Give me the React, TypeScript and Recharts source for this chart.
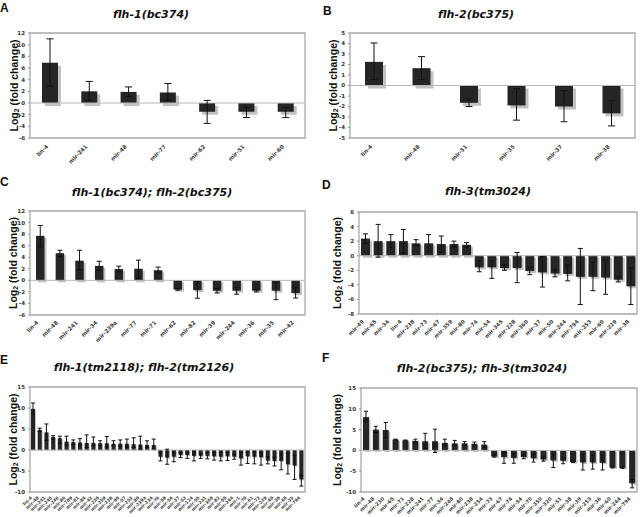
import React from 'react';
import { BarChart, Bar, XAxis, YAxis, ErrorBar, ReferenceLine, ReferenceArea } from 'recharts';

// ---------- Panel A: flh-1(bc374) ----------
const aNames = ['lin-4', 'mir-241', 'mir-48', 'mir-77', 'mir-62', 'mir-51', 'mir-60'];
const aValues = [6.9, 2.0, 1.9, 1.8, -1.5, -1.5, -1.5];
const aLow = [2.9, 0.4, 1.1, 0.5, -3.5, -2.5, -2.5];
const aHigh = [11.0, 3.7, 2.75, 3.35, 0.45, -0.75, -0.75];
const aTicks = [-6, -4, -2, 0, 2, 4, 6, 8, 10, 12];

// ---------- Panel B: flh-2(bc375) ----------
const bNames = ['lin-4', 'mir-48', 'mir-51', 'mir-35', 'mir-37', 'mir-38'];
const bValues = [2.25, 1.65, -1.65, -1.9, -2.0, -2.65];
const bLow = [0.55, 0.55, -2.0, -3.3, -3.45, -3.85];
const bHigh = [4.05, 2.75, -1.25, -0.3, -0.5, -1.45];
const bTicks = [-5, -4, -3, -2, -1, 0, 1, 2, 3, 4, 5];

// ---------- Panel C: flh-1(bc374); flh-2(bc375) ----------
const cNames = ['lin-4', 'mir-48', 'mir-241', 'mir-34', 'mir-239a', 'mir-77', 'mir-71', 'mir-62', 'mir-82', 'mir-39', 'mir-244', 'mir-36', 'mir-35', 'mir-42'];
const cValues = [7.7, 4.7, 3.4, 2.5, 1.95, 2.0, 1.75, -1.6, -1.7, -1.8, -1.8, -1.8, -1.8, -2.2];
const cLow = [5.8, 4.1, 1.8, 1.7, 1.45, 0.3, 1.3, -1.7, -3.1, -2.2, -2.4, -2.0, -3.35, -3.05];
const cHigh = [9.5, 5.2, 5.2, 3.3, 2.45, 3.5, 2.3, -1.45, -0.2, -1.4, -1.2, -1.6, -0.35, -1.2];
const cTicks = [-6, -4, -2, 0, 2, 4, 6, 8, 10, 12];

// ---------- Panel D: flh-3(tm3024) ----------
const dNames = ['mir-49', 'mir-65', 'mir-34', 'lin-4', 'mir-238', 'mir-73', 'mir-67', 'mir-359', 'mir-80', 'mir-74', 'mir-54', 'mir-345', 'mir-228', 'mir-360', 'mir-37', 'mir-50', 'mir-244', 'mir-794', 'mir-253', 'mir-60', 'mir-229', 'mir-38'];
const dValues = [2.35, 2.0, 2.0, 2.0, 1.7, 1.7, 1.6, 1.6, 1.5, -1.6, -1.6, -1.7, -1.7, -2.1, -2.3, -2.45, -2.5, -2.9, -2.9, -3.0, -3.3, -4.2];
const dLow = [1.7, -0.2, 1.1, 0.3, 1.4, 0.6, 0.5, 1.2, 1.2, -2.2, -3.1, -2.0, -3.7, -2.6, -4.3, -2.9, -3.45, -6.7, -4.8, -5.3, -3.6, -6.7];
const dHigh = [3.0, 4.3, 2.9, 3.6, 2.2, 2.9, 2.7, 2.0, 1.8, -0.7, -0.7, -1.2, 0.45, -1.6, -0.1, -1.95, -1.3, 1.0, -0.9, -0.6, -2.9, -1.7];
const dTicks = [-8, -6, -4, -2, 0, 2, 4, 6];

// ---------- Panel E: flh-1(tm2118); flh-2(tm2126) ----------
const eNames = ['lin-4', 'mir-48', 'mir-241', 'mir-245', 'mir-246', 'mir-86', 'mir-789', 'mir-81', 'mir-84', 'mir-42', 'mir-230', 'mir-259', 'mir-238', 'mir-90', 'mir-57', 'mir-253', 'mir-80', 'mir-239a', 'mir-234',
  'mir-76', 'mir-59', 'mir-54', 'mir-37', 'mir-52', 'mir-124', 'mir-55', 'mir-231', 'mir-360', 'mir-82', 'mir-50', 'mir-244', 'mir-1', 'mir-70', 'mir-61', 'mir-72', 'mir-229', 'mir-40', 'mir-39', 'mir-60', 'mir-35', 'mir-794'];
const eValues = [9.8, 4.8, 4.2, 3.1, 2.8, 2.0, 1.9, 1.8, 1.7, 1.7, 1.6, 1.6, 1.5, 1.5, 1.5, 1.4, 1.3, 1.2, 1.2,
  -1.6, -1.8, -1.6, -1.2, -1.2, -1.4, -1.4, -1.4, -1.5, -1.6, -1.5, -1.6, -2.0, -1.5, -1.6, -1.7, -2.5, -2.6, -2.6, -3.4, -3.7, -7.0];
const eLow = [8.6, 4.4, 2.3, 2.5, 1.6, 1.2, 1.3, 1.2, 0.6, 1.0, 1.0, 0.7, 1.0, 0.9, 0.7, 0.6, 0.2, 0.6, 0.3,
  -2.6, -3.4, -2.8, -1.8, -2.0, -2.6, -2.0, -2.1, -2.4, -2.6, -2.5, -2.2, -3.6, -3.2, -3.3, -3.6, -3.3, -3.8, -4.7, -5.7, -7.0, -8.6];
const eHigh = [11.2, 5.2, 6.2, 3.4, 3.3, 3.3, 2.4, 2.7, 3.6, 3.1, 2.2, 3.2, 2.2, 2.4, 2.6, 2.9, 3.3, 2.2, 2.6,
  -0.5, 0.2, -0.5, -0.6, -0.5, -0.4, -0.8, -0.6, -0.6, -0.6, -0.6, -1.0, -0.6, -0.6, -0.5, -0.6, -1.6, -1.7, -0.9, -0.8, -1.2, -6.0];
const eTicks = [-10, -5, 0, 5, 10, 15];

// ---------- Panel F: flh-2(bc375); flh-3(tm3024) ----------
const fNames = ['lin-4', 'mir-48', 'mir-230', 'mir-65', 'mir-71', 'mir-228', 'mir-241', 'mir-77', 'mir-34', 'mir-248', 'mir-80', 'mir-238', 'mir-254', 'mir-73', 'mir-67', 'mir-74', 'mir-54', 'mir-70', 'mir-350', 'mir-320', 'mir-51', 'mir-38', 'mir-39', 'mir-253', 'mir-36', 'mir-60', 'mir-244', 'mir-794'];
const fValues = [8.0, 5.0, 4.9, 2.6, 2.4, 2.3, 2.2, 2.2, 1.8, 1.7, 1.7, 1.6, 1.4, -1.5, -1.6, -1.8, -1.6, -1.9, -2.2, -2.4, -2.5, -2.8, -2.9, -2.9, -3.0, -4.1, -4.2, -7.9];
const fLow = [6.9, 4.3, 3.0, 2.5, 2.3, 1.8, 0.5, -0.5, 1.1, 1.1, 1.4, 1.2, 0.7, -1.6, -3.1, -3.1, -2.0, -2.8, -2.6, -4.1, -3.2, -2.9, -4.7, -4.5, -4.7, -4.2, -4.3, -9.0];
const fHigh = [9.4, 5.8, 6.7, 2.7, 2.5, 2.7, 4.1, 5.1, 2.7, 2.4, 2.1, 2.0, 2.1, -1.0, -0.5, -0.8, -1.0, -0.9, -1.4, -0.8, -1.7, -2.6, -1.0, -1.2, -1.2, -4.0, -4.1, -7.0];
const fTicks = [-10, -5, 0, 5, 10, 15];

const buildData = (names: string[], values: number[], lo: number[], hi: number[]) =>
  names.map((n, i) => ({ name: n, v: values[i], e: [values[i] - lo[i], hi[i] - values[i]] }));

type Cfg = {
  letter: string; title: string; left: number; top: number; w: number; h: number;
  pl: number; pr: number; pt: number; pb: number;
  letterX: number; letterY: number; titleX: number; titleY: number; labelX: number;
  names: string[]; values: number[]; lo: number[]; hi: number[]; ticks: number[];
  barSize: number; cap: number; shadow: number; fs: number; dy: number;
};

const PANELS: Cfg[] = [
  { letter: 'A', title: 'flh-1(bc374)', left: 0, top: 0, w: 320, h: 172, pl: 30, pr: 305, pt: 33, pb: 138,
    letterX: 0, letterY: 12, titleX: 151, titleY: 14, labelX: 14,
    names: aNames, values: aValues, lo: aLow, hi: aHigh, ticks: aTicks, barSize: 16, cap: 3.5, shadow: 3, fs: 5.5, dy: 9 },
  { letter: 'B', title: 'flh-2(bc375)', left: 320, top: 0, w: 320, h: 172, pl: 30, pr: 315, pt: 33, pb: 138,
    letterX: 3, letterY: 15, titleX: 156, titleY: 14, labelX: 13,
    names: bNames, values: bValues, lo: bLow, hi: bHigh, ticks: bTicks, barSize: 18, cap: 3.5, shadow: 3, fs: 5.5, dy: 9 },
  { letter: 'C', title: 'flh-1(bc374); flh-2(bc375)', left: 0, top: 170, w: 320, h: 182, pl: 30, pr: 305, pt: 41, pb: 145,
    letterX: 0, letterY: 16, titleX: 152, titleY: 22, labelX: 13,
    names: cNames, values: cValues, lo: cLow, hi: cHigh, ticks: cTicks, barSize: 8.5, cap: 2.5, shadow: 2, fs: 5.5, dy: 8 },
  { letter: 'D', title: 'flh-3(tm3024)', left: 320, top: 170, w: 320, h: 180, pl: 39, pr: 317, pt: 42, pb: 144,
    letterX: 2, letterY: 19, titleX: 168, titleY: 21, labelX: 17,
    names: dNames, values: dValues, lo: dLow, hi: dHigh, ticks: dTicks, barSize: 9, cap: 2.5, shadow: 2, fs: 5.3, dy: 8 },
  { letter: 'E', title: 'flh-1(tm2118); flh-2(tm2126)', left: 0, top: 340, w: 320, h: 177, pl: 30, pr: 305, pt: 47, pb: 152,
    letterX: 0, letterY: 24, titleX: 144, titleY: 27, labelX: 13,
    names: eNames, values: eValues, lo: eLow, hi: eHigh, ticks: eTicks, barSize: 4, cap: 2, shadow: 1, fs: 4.4, dy: 6 },
  { letter: 'F', title: 'flh-2(bc375); flh-3(tm3024)', left: 320, top: 340, w: 320, h: 177, pl: 41, pr: 317, pt: 48, pb: 152,
    letterX: 2, letterY: 22, titleX: 162, titleY: 28, labelX: 17,
    names: fNames, values: fValues, lo: fLow, hi: fHigh, ticks: fTicks, barSize: 6, cap: 2, shadow: 1.5, fs: 5, dy: 7 },
];

const ShadowBar = (props: any) => {
  let { x, y, width, height, off } = props;
  if (height < 0) { y = y + height; height = -height; }
  return (
    <g>
      <rect x={x + off} y={y + off} width={width} height={height} fill="#c2c2c2" />
      <rect x={x} y={y} width={width} height={height} fill="#252525" />
    </g>
  );
};

const XTick = (props: any) => {
  const { x, y, payload, fs, dy } = props;
  const tx = x - 1;
  const ty = y + dy;
  return (
    <text x={tx} y={ty} transform={`rotate(-45 ${tx} ${ty})`} textAnchor="end" fontSize={fs}
      fontWeight="bold" fill="#3a3a3a" fontFamily="DejaVu Sans, Verdana, sans-serif">
      {payload.value}
    </text>
  );
};

const Panel = ({ c }: { c: Cfg }) => {
  const data = buildData(c.names, c.values, c.lo, c.hi);
  const yw = 24;
  const domain: [number, number] = [c.ticks[0], c.ticks[c.ticks.length - 1]];
  const cy = (c.pt + c.pb) / 2;
  return (
    <div style={{ position: 'absolute', left: c.left, top: c.top, width: c.w, height: c.h }}>
      <BarChart width={c.w} height={c.h} data={data}
        margin={{ top: c.pt, right: c.w - c.pr, bottom: 0, left: c.pl - yw }}>
        <ReferenceArea y1={domain[0]} y2={domain[1]} fill="#ffffff" stroke="#a9a9a9" strokeWidth={1.3} />
        <XAxis dataKey="name" interval={0} height={c.h - c.pb} axisLine={false} tickLine={false}
          tickSize={0} tickMargin={0} tick={(p: any) => <XTick {...p} fs={c.fs} dy={c.dy} />} />
        <YAxis type="number" domain={domain} ticks={c.ticks} interval={0} width={yw} axisLine={false}
          tickSize={2} tickMargin={3} tickLine={{ stroke: '#999' }}
          tick={{ fontSize: 5.5, fontWeight: 'bold', fill: '#333', fontFamily: 'DejaVu Sans, Verdana, sans-serif' }} />
        <ReferenceLine y={0} stroke="#b8b8b8" strokeWidth={1} />
        <Bar dataKey="v" barSize={c.barSize} isAnimationActive={false}
          shape={(p: any) => <ShadowBar {...p} off={c.shadow} />}>
          <ErrorBar dataKey="e" width={c.cap} stroke="#111" strokeWidth={1} direction="y" isAnimationActive={false} />
        </Bar>
      </BarChart>
      <svg width={c.w} height={c.h} style={{ position: 'absolute', left: 0, top: 0, pointerEvents: 'none' }}>
        <text x={c.letterX} y={c.letterY} fontFamily="Liberation Sans, Arial, sans-serif" fontWeight="bold" fontSize={12} fill="#111">
          {c.letter}
        </text>
        <text x={c.titleX} y={c.titleY} textAnchor="middle" dominantBaseline="central"
          fontFamily="DejaVu Sans, Verdana, sans-serif" fontWeight="bold" fontStyle="italic" fontSize={11} fill="#111">
          {c.title}
        </text>
        <text x={c.labelX} y={cy} transform={`rotate(-90 ${c.labelX} ${cy})`} textAnchor="middle" dominantBaseline="central"
          fontFamily="Liberation Sans, Arial, sans-serif" fontWeight="bold" fontSize={10.5} fill="#111">
          <tspan>Log</tspan>
          <tspan fontSize={7} dy={2}>2</tspan>
          <tspan dy={-2}> (fold change)</tspan>
        </text>
      </svg>
    </div>
  );
};

export default function App() {
  return (
    <div style={{ position: 'absolute', left: 0, top: 0, width: 640, height: 517, background: '#fff' }}>
      {PANELS.map((c) => <Panel key={c.letter} c={c} />)}
    </div>
  );
}
